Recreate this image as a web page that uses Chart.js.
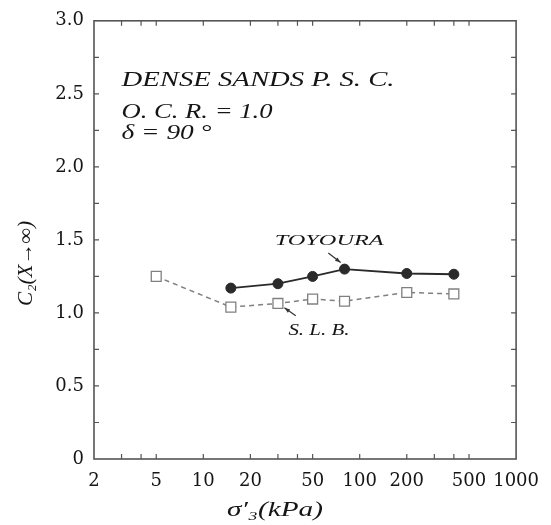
<!DOCTYPE html>
<html>
<head>
<meta charset="utf-8">
<script src="https://cdn.jsdelivr.net/npm/chart.js@4.4.0/dist/chart.umd.min.js"></script>
<style>
  html, body { margin: 0; padding: 0; background: #fff; }
</style>
</head>
<body>
<canvas id="c2Chart" width="551" height="525"></canvas>
<script>
// C2(X->inf) vs confining stress, dense sands, P.S.C., O.C.R. = 1.0
const slbStress = [5, 15, 30, 50, 80, 200, 400];
const slbC2 = [1.25, 1.04, 1.065, 1.095, 1.08, 1.14, 1.13];
const toyouraStress = [15, 30, 50, 80, 200, 400];
const toyouraC2 = [1.17, 1.20, 1.25, 1.30, 1.27, 1.265];
const xTickLabels = [2, 5, 10, 20, 50, 100, 200, 500, 1000];
const xTickMarks = [3, 4, 5, 10, 20, 30, 40, 50, 100, 200, 300, 400, 500];

const serif = "'DejaVu Serif', 'Liberation Serif', serif";
const italicSerif = "'Liberation Serif', 'DejaVu Serif', serif";

// text notes inside the plot (data coords for the left/middle point)
const notes = [
    { text: 'DENSE SANDS P. S. C.', x: 3, y: 2.59, w: 273, size: 20 },
    { text: 'O. C. R. = 1.0', x: 3, y: 2.37, w: 151, size: 20 },
    { text: 'δ = 90 °', x: 3, y: 2.23, w: 90, size: 20 },
    { text: 'TOYOURA', x: 28.6, y: 1.49, w: 109, size: 15 },
    { text: 'S. L. B.', x: 35, y: 0.88, w: 61, size: 16 }
];
const arrows = [
    { from: [63, 1.41], to: [75.5, 1.345] },
    { from: [39, 0.98], to: [33, 1.035] }
];

function fitText(ctx, text, x, y, w, font, rot) {
    ctx.save();
    ctx.font = font;
    const m = ctx.measureText(text).width;
    ctx.translate(x, y);
    if (rot) ctx.rotate(rot);
    ctx.scale(w / m, 1);
    ctx.fillText(text, 0, 0);
    ctx.restore();
}

const framePlugin = {
    id: 'frame',
    afterDraw(chart) {
        const ctx = chart.ctx;
        const a = chart.chartArea;
        const xs = chart.scales.x, ys = chart.scales.y;
        ctx.save();
        ctx.strokeStyle = '#555';
        ctx.lineWidth = 1.6;
        ctx.strokeRect(a.left, a.top, a.right - a.left, a.bottom - a.top);

        // inward tick marks on all four sides
        ctx.lineWidth = 1.2;
        ctx.beginPath();
        xTickMarks.forEach(v => {
            const px = xs.getPixelForValue(v);
            ctx.moveTo(px, a.bottom); ctx.lineTo(px, a.bottom - 5);
            ctx.moveTo(px, a.top); ctx.lineTo(px, a.top + 5);
        });
        ys.ticks.forEach(t => {
            if (t.value <= 0 || t.value >= 3) return;
            const py = ys.getPixelForValue(t.value);
            ctx.moveTo(a.left, py); ctx.lineTo(a.left + 5, py);
            ctx.moveTo(a.right, py); ctx.lineTo(a.right - 5, py);
        });
        ctx.stroke();

        // notes and arrows
        ctx.fillStyle = '#151515';
        ctx.textBaseline = 'middle';
        ctx.textAlign = 'left';
        notes.forEach(n => {
            fitText(ctx, n.text, xs.getPixelForValue(n.x), ys.getPixelForValue(n.y), n.w,
                'italic ' + n.size + 'px ' + italicSerif);
        });
        ctx.strokeStyle = '#333';
        ctx.lineWidth = 1.2;
        arrows.forEach(ar => {
            const x1 = xs.getPixelForValue(ar.from[0]), y1 = ys.getPixelForValue(ar.from[1]);
            const x2 = xs.getPixelForValue(ar.to[0]), y2 = ys.getPixelForValue(ar.to[1]);
            const ang = Math.atan2(y2 - y1, x2 - x1);
            ctx.beginPath();
            ctx.moveTo(x1, y1); ctx.lineTo(x2, y2);
            ctx.stroke();
            ctx.beginPath();
            ctx.moveTo(x2, y2);
            ctx.lineTo(x2 - 6 * Math.cos(ang - 0.35), y2 - 6 * Math.sin(ang - 0.35));
            ctx.lineTo(x2 - 6 * Math.cos(ang + 0.35), y2 - 6 * Math.sin(ang + 0.35));
            ctx.closePath();
            ctx.fillStyle = '#333';
            ctx.fill();
        });

        // axis titles
        ctx.fillStyle = '#151515';
        ctx.textAlign = 'left';
        fitText(ctx, 'C₂(X→∞)', 27, 306, 85, 'italic 20px ' + italicSerif, -Math.PI / 2);
        fitText(ctx, 'σ′₃(kPa)', 227, 511, 96, 'italic 20px ' + italicSerif);
        ctx.restore();
    }
};

new Chart(document.getElementById('c2Chart'), {
    type: 'line',
    data: {
        datasets: [{
            label: 'TOYOURA',
            data: toyouraStress.map((s, i) => ({ x: s, y: toyouraC2[i] })),
            borderColor: '#2a2a2a',
            backgroundColor: '#2a2a2a',
            borderWidth: 1.8,
            pointStyle: 'circle',
            pointRadius: 5,
            pointBorderWidth: 1
        }, {
            label: 'S. L. B.',
            data: slbStress.map((s, i) => ({ x: s, y: slbC2[i] })),
            borderColor: '#808080',
            borderDash: [5, 4],
            borderWidth: 1.5,
            pointStyle: 'rect',
            pointRadius: 7,
            pointBackgroundColor: '#fff',
            pointBorderColor: '#808080',
            pointBorderWidth: 1.3
        }]
    },
    options: {
        responsive: false,
        animation: false,
        layout: { padding: { top: 13, right: 27, left: 0, bottom: 0 } },
        plugins: { legend: { display: false }, tooltip: { enabled: false } },
        scales: {
            x: {
                type: 'logarithmic',
                min: 2,
                max: 1000,
                afterBuildTicks: scale => {
                    const vals = [...new Set(xTickLabels.concat(xTickMarks))].sort((a, b) => a - b);
                    scale.ticks = vals.map(v => ({ value: v }));
                },
                afterFit: scale => { scale.height = 66; },
                grid: { display: false, drawTicks: false },
                border: { display: false },
                ticks: {
                    autoSkip: false,
                    maxRotation: 0,
                    padding: 12,
                    color: '#151515',
                    font: { family: serif, size: 18 },
                    callback: v => xTickLabels.includes(v) ? String(v) : ''
                }
            },
            y: {
                min: 0,
                max: 3,
                afterFit: scale => { scale.width = 94; },
                grid: { display: false, drawTicks: false },
                border: { display: false },
                ticks: {
                    stepSize: 0.25,
                    padding: 10,
                    color: '#151515',
                    font: { family: serif, size: 18 },
                    callback: v => {
                        if (Math.abs(v * 2 - Math.round(v * 2)) > 1e-6) return '';
                        return v === 0 ? '0' : v.toFixed(1);
                    }
                }
            }
        }
    },
    plugins: [framePlugin]
});
</script>
</body>
</html>
